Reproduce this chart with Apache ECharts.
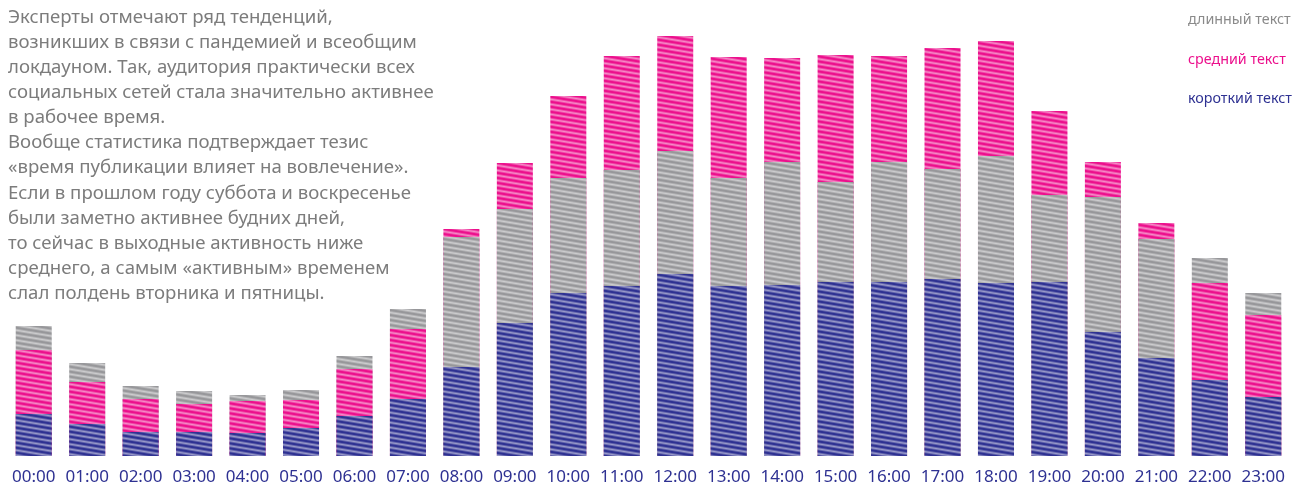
<!DOCTYPE html>
<html><head><meta charset="utf-8">
<script src="https://cdn.jsdelivr.net/npm/echarts@6/dist/echarts.min.js"></script>
<style>html,body{margin:0;padding:0;background:#fff}#c{width:1293px;height:484px}</style>
</head><body><div id="c"></div>
<script>
const hours = ['00:00','01:00','02:00','03:00','04:00','05:00','06:00','07:00','08:00','09:00','10:00','11:00',
  '12:00','13:00','14:00','15:00','16:00','17:00','18:00','19:00','20:00','21:00','22:00','23:00'];
const shortText  = [42,32,24,24,23,28,40,57,89,133,163,170,182,170,171,174,174,177,173,174,124,98,76,59];
const mediumText = [106,74,57,52,55,56,87,127,227,293,360,400,420,399,398,401,400,408,415,345,294,233,173,141];
const longText   = [130,93,70,65,61,66,100,147,219,247,278,286,305,278,294,274,294,287,300,261,259,217,198,163];
const legendNames = ['длинный текст','средний текст','короткий текст'];
const noteLines = [
  'Эксперты отмечают ряд тенденций,',
  'возникших в связи с пандемией и всеобщим',
  'локдауном. Так, аудитория практически всех',
  'социальных сетей стала значительно активнее',
  'в рабочее время.',
  'Вообще статистика подтверждает тезис',
  '«время публикации влияет на вовлечение».',
  'Если в прошлом году суббота и воскресенье',
  'были заметно активнее будних дней,',
  'то сейчас в выходные активность ниже',
  'среднего, а самым «активным» временем',
  'слал полдень вторника и пятницы.'
];

const COL_LONG = '#97979a', COL_MED = '#ec0f8c', COL_SHORT = '#2e3192';
const FONT = '"Noto Sans", sans-serif';

function hatch(color) {
  const W = 30, H = 5;
  const c = document.createElement('canvas');
  c.width = W; c.height = H;
  const g = c.getContext('2d');
  g.fillStyle = '#ffffff'; g.fillRect(0, 0, W, H);
  g.globalAlpha = 0.72; g.fillStyle = color; g.fillRect(0, 0, W, H);
  g.globalAlpha = 1; g.strokeStyle = color; g.lineWidth = 2;
  for (const dy of [-5, 0, 5]) { g.beginPath(); g.moveTo(0, dy); g.lineTo(W, dy + H); g.stroke(); }
  g.strokeStyle = 'rgba(255,255,255,0.5)'; g.lineWidth = 0.7;
  for (const dy of [-2.5, 2.5, 7.5]) { g.beginPath(); g.moveTo(0, dy); g.lineTo(W, dy + H); g.stroke(); }
  return { image: c, repeat: 'repeat' };
}
const P_LONG = hatch(COL_LONG), P_MED = hatch(COL_MED), P_SHORT = hatch(COL_SHORT);

const backData = hours.map((h, i) => longText[i] >= mediumText[i]
  ? { value: longText[i], itemStyle: { color: P_LONG } }
  : { value: mediumText[i], itemStyle: { color: P_MED } });
const frontData = hours.map((h, i) => longText[i] >= mediumText[i]
  ? { value: mediumText[i], itemStyle: { color: P_MED } }
  : { value: longText[i], itemStyle: { color: P_LONG } });

const barCommon = { type: 'bar', barWidth: 36, barGap: '-100%', silent: true, animation: false };

const chart = echarts.init(document.getElementById('c'), null, { renderer: 'canvas' });
chart.setOption({
  backgroundColor: '#fff',
  animation: false,
  title: {
    text: noteLines.join('\n'), left: 3, top: 0,
    textStyle: { fontFamily: FONT, fontSize: 18.6, fontWeight: 'normal', color: '#7c7c7c', lineHeight: 25.1 }
  },
  legend: {
    orient: 'vertical', left: 1178, top: 8, itemWidth: 0, itemHeight: 14, itemGap: 25.5, icon: 'rect',
    selectedMode: false,
    textStyle: { fontFamily: FONT, fontSize: 14.3 },
    data: [
      { name: legendNames[0], textStyle: { color: '#8a8a8a' } },
      { name: legendNames[1], textStyle: { color: COL_MED } },
      { name: legendNames[2], textStyle: { color: COL_SHORT } }
    ]
  },
  grid: { left: 7, right: 3, top: 6, bottom: 28, containLabel: false, outerBoundsMode: 'none' },
  xAxis: {
    type: 'category', data: hours,
    axisLine: { show: false }, axisTick: { show: false },
    axisLabel: { color: COL_SHORT, fontFamily: FONT, fontSize: 17, margin: 13, interval: 0 }
  },
  yAxis: { type: 'value', min: 0, max: 450, show: false, splitLine: { show: false } },
  series: [
    Object.assign({ name: 'back', data: backData, z: 2 }, barCommon),
    Object.assign({ name: 'front', data: frontData, z: 3 }, barCommon),
    Object.assign({ name: legendNames[2], data: shortText, z: 4, itemStyle: { color: P_SHORT } }, barCommon),
    Object.assign({ name: legendNames[0], data: [], itemStyle: { color: COL_LONG } }, barCommon),
    Object.assign({ name: legendNames[1], data: [], itemStyle: { color: COL_MED } }, barCommon)
  ]
});
</script>
</body></html>
